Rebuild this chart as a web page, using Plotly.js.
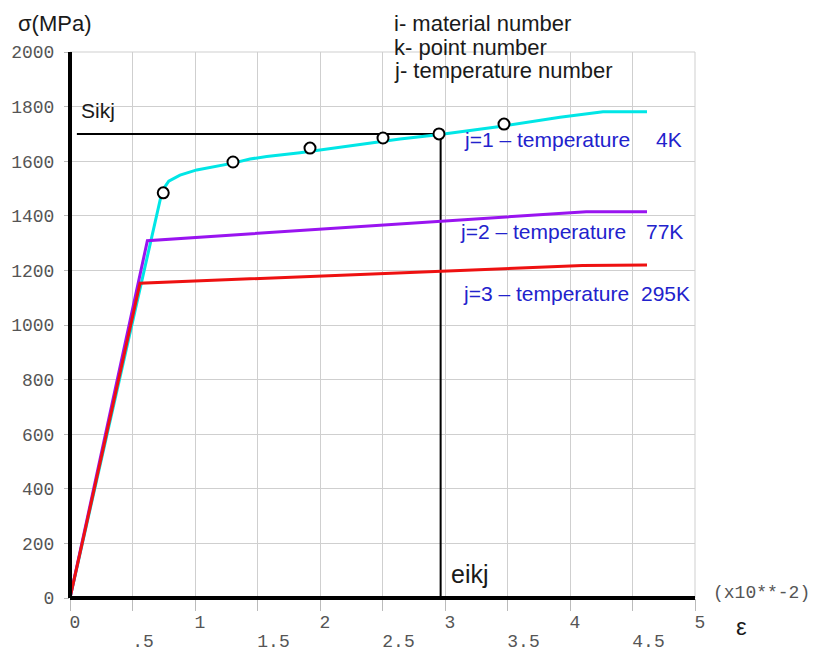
<!DOCTYPE html>
<html>
<head>
<meta charset="utf-8">
<script src="https://cdn.plot.ly/plotly-3.0.1.min.js"></script>
<style>html,body{margin:0;padding:0;background:#fff;}#chart{width:813px;height:653px;}</style>
</head>
<body>
<div id="chart"></div>
<script>
// ---- data ----
var cyanX   = [0, 0.738, 0.79, 0.88, 1.014, 1.174, 1.304, 1.44, 1.574, 1.84, 2.104, 2.374, 2.64, 2.96, 3.47, 3.92, 4.264, 4.616];
var cyanY   = [0, 1492, 1527, 1549, 1568, 1582, 1593, 1608, 1617, 1631, 1648, 1665, 1681, 1698, 1729, 1761, 1781, 1781];
var purpleX = [0, 0.619, 4.13, 4.616];
var purpleY = [0, 1309, 1415, 1415];
var redX    = [0, 0.56, 4.1, 4.616];
var redY    = [0, 1153, 1218, 1220];
var pointX  = [0.746, 1.304, 1.92, 2.504, 2.952, 3.472];
var pointY  = [1484, 1597, 1648, 1685, 1700, 1736];
var sikj = 1700, eikj = 2.965, sikjStart = 0.055;
var guideX = [sikjStart, eikj, eikj];
var guideY = [sikj, sikj, 0];

var intTicks   = [0, 1, 2, 3, 4, 5];
var intLabels  = ['0', '1', '2', '3', '4', '5'];
var halfTicks  = [0.5, 1.5, 2.5, 3.5, 4.5];
var halfLabels = ['.5\u00a0', '1.5', '2.5', '3.5', '4.5'];
var yTicks  = [0, 200, 400, 600, 800, 1000, 1200, 1400, 1600, 1800, 2000];
var yLabels = ['0', '200', '400', '600', '800', '1000', '1200', '1400', '1600', '1800', '2000'];

var seriesLabels = ['j=1 \u2013 temperature', 'j=2 \u2013 temperature', 'j=3 \u2013 temperature'];
var tempLabels = ['4K', '77K', '295K'];

// ---- styling ----
var mono = 'Liberation Mono, Courier New, monospace';
var sans = 'Liberation Sans, Arial, sans-serif';
var gridC = '#cfcfcf';
var tickC = '#bbbbbb';
var blue = '#2222cc';

var traces = [
  {x: guideX, y: guideY, mode: 'lines', line: {color: '#000', width: 2}, hoverinfo: 'skip'},
  {x: cyanX, y: cyanY, mode: 'lines', line: {color: '#00e6e6', width: 3}},
  {x: purpleX, y: purpleY, mode: 'lines', line: {color: '#9914f0', width: 3}},
  {x: redX, y: redY, mode: 'lines', line: {color: '#ee1111', width: 3}},
  {x: pointX, y: pointY, xaxis: 'x2', yaxis: 'y', mode: 'markers',
   marker: {symbol: 'circle', size: 11, color: '#fff', line: {color: '#000', width: 2}}}
];

function ann(text, xref, yref, x, y, xanchor, font) {
  return {text: text, xref: xref, yref: yref, x: x, y: y, xanchor: xanchor, yanchor: 'middle',
          showarrow: false, font: font, borderpad: 0};
}
var blackF = {family: sans, size: 21, color: '#1a1a1a'};
var topF = {family: sans, size: 22, color: '#1a1a1a'};
var blueF = {family: sans, size: 21, color: blue};

var annotations = [
  ann('\u03c3(MPa)', 'paper', 'paper', -0.0848, 1.0513, 'left', topF),
  ann('i- material number', 'paper', 'paper', 0.5168, 1.0513, 'left', topF),
  ann('k- point number', 'paper', 'paper', 0.5168, 1.0088, 'left', topF),
  ann('j- temperature number', 'paper', 'paper', 0.5168, 0.9656, 'left', topF),
  ann('Sikj', 'x', 'y', 0.08, 1786, 'left', blackF),
  ann('eikj', 'x', 'y', 3.04, 88, 'left', {family: sans, size: 25, color: '#1a1a1a'}),
  ann(seriesLabels[0], 'x', 'y', 3.144, 1681, 'left', blueF),
  ann(tempLabels[0], 'x', 'y', 4.906, 1681, 'right', blueF),
  ann(seriesLabels[1], 'x', 'y', 3.114, 1342, 'left', blueF),
  ann(tempLabels[1], 'x', 'y', 4.912, 1342, 'right', blueF),
  ann(seriesLabels[2], 'x', 'y', 3.134, 1114, 'left', blueF),
  ann(tempLabels[2], 'x', 'y', 4.966, 1114, 'right', blueF),
  ann('(x10**-2)', 'paper', 'paper', 1.0267, 0.0092, 'left', {family: mono, size: 18, color: '#555'}),
  ann('\u03b5', 'paper', 'paper', 1.0736, -0.0531, 'center', {family: sans, size: 24, color: '#1a1a1a'})
];

var layout = {
  width: 813, height: 653,
  margin: {l: 70, r: 118, t: 52, b: 55, pad: 0},
  paper_bgcolor: '#fff', plot_bgcolor: '#fff',
  showlegend: false,
  font: {family: sans},
  xaxis: {
    range: [0, 5], fixedrange: true,
    tickmode: 'array', tickvals: intTicks, ticktext: intLabels,
    ticks: 'outside', ticklen: 5, tickcolor: tickC, tickwidth: 1,
    showgrid: true, gridcolor: gridC, gridwidth: 1,
    zeroline: false, showline: false,
    tickfont: {family: mono, size: 18, color: '#555'},
    ticklabelshift: 5, ticklabelstandoff: 2,
    minor: {dtick: 0.5, tick0: 0, ticks: 'outside', ticklen: 12, tickcolor: tickC, showgrid: true, gridcolor: gridC, gridwidth: 1}
  },
  xaxis2: {
    overlaying: 'x', anchor: 'y', side: 'bottom',
    range: [0, 5], fixedrange: true,
    tickmode: 'array', tickvals: halfTicks, ticktext: halfLabels,
    ticks: '', showgrid: false, zeroline: false, showline: false,
    tickfont: {family: mono, size: 18, color: '#555'},
    ticklabelshift: 16, ticklabelstandoff: 30
  },
  yaxis: {
    range: [0, 2000], fixedrange: true,
    tickmode: 'array', tickvals: yTicks, ticktext: yLabels,
    ticks: 'outside', ticklen: 5, tickcolor: tickC, tickwidth: 1,
    showgrid: true, gridcolor: gridC, gridwidth: 1,
    zeroline: false, showline: false,
    tickfont: {family: mono, size: 18, color: '#555'},
    ticklabelstandoff: 6
  },
  shapes: [
    {type: 'line', xref: 'paper', yref: 'paper', x0: 0, x1: 1, y0: 1, y1: 1, line: {color: gridC, width: 1}, layer: 'below'},
    {type: 'line', xref: 'paper', yref: 'paper', x0: 1, x1: 1, y0: 0, y1: 1, line: {color: gridC, width: 1}, layer: 'below'},
    {type: 'line', xref: 'paper', yref: 'paper', x0: 0, x1: 0, y0: 0, y1: 1, line: {color: '#000', width: 4}, layer: 'above'},
    {type: 'line', xref: 'paper', yref: 'paper', x0: 0, x1: 1, y0: 0, y1: 0, line: {color: '#000', width: 4}, layer: 'above'}
  ],
  annotations: annotations
};

Plotly.newPlot('chart', traces, layout, {staticPlot: true, displayModeBar: false});
</script>
</body>
</html>
